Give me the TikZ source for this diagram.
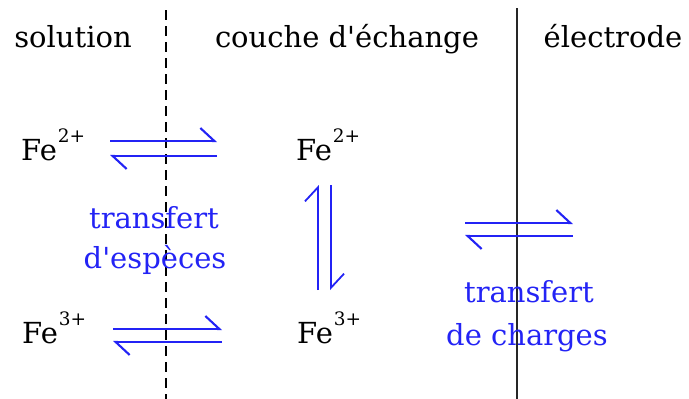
\documentclass[tikz,border=0pt]{standalone}
\usepackage{fontspec}
\setmainfont{DejaVu Serif}[Ligatures=TeXOff]
\usetikzlibrary{arrows.meta}
\definecolor{arrblue}{RGB}{35,35,245}
\newcommand\ionsup[1]{\kern1pt\raisebox{18pt}{\fontsize{18.5}{18}\selectfont #1}}
\tikzset{
  lbl/.style={anchor=base, inner sep=0pt, font=\fontsize{29}{34}\selectfont},
  bluelbl/.style={lbl, text=arrblue},
  harp/.style={draw=arrblue, line width=2.1pt, -{Straight Barb[left,length=14pt,width=26pt]}},
  sep/.style={line width=1.8pt}
}
\begin{document}
\begin{tikzpicture}[x=1pt,y=-1pt]
\useasboundingbox (0,0) rectangle (689,399);
% headings
\node[lbl] (sol) at (73,47) {solution};
\node[lbl] (cou) at (347,47) {couche d'échange};
\node[lbl] (ele) at (613,47) {électrode};
% separators
\coordinate (d1) at (166,10);
\coordinate (d2) at (166,399);
\coordinate (s1) at (517,8);
\coordinate (s2) at (517,399);
\draw[sep, dash pattern=on 10pt off 6pt] (d1) -- (d2);
\draw[sep, black!85] (s1) -- (s2);
% species
\node[lbl, anchor=base west] (fe2l) at (21,160) {Fe\ionsup{2+}};
\node[lbl, anchor=base west] (fe2m) at (296,160) {Fe\ionsup{2+}};
\node[lbl, anchor=base west] (fe3l) at (22,343) {Fe\ionsup{3+}};
\node[lbl, anchor=base west] (fe3m) at (297,343) {Fe\ionsup{3+}};
% blue labels
\node[bluelbl] (t1) at (154,228) {transfert};
\node[bluelbl] (t2) at (155,268) {d'espèces};
\node[bluelbl] (t3) at (529,302) {transfert};
\node[bluelbl] (t4) at (527,345) {de charges};
% harpoon end points
\coordinate (a1) at (110,141); \coordinate (a2) at (217,141);
\coordinate (a3) at (217,156); \coordinate (a4) at (110,156);
\coordinate (b1) at (113,329); \coordinate (b2) at (222,329);
\coordinate (b3) at (222,342); \coordinate (b4) at (113,342);
\coordinate (v1) at (318,290); \coordinate (v2) at (318,185);
\coordinate (v3) at (331,185); \coordinate (v4) at (331,290);
\coordinate (r1) at (465,223); \coordinate (r2) at (573,223);
\coordinate (r3) at (573,236); \coordinate (r4) at (465,236);
\draw[harp] (a1) -- (a2);
\draw[harp] (a3) -- (a4);
\draw[harp] (b1) -- (b2);
\draw[harp] (b3) -- (b4);
\draw[harp, line width=1.8pt] (v1) -- (v2);
\draw[harp, line width=1.8pt] (v3) -- (v4);
\draw[harp] (r1) -- (r2);
\draw[harp] (r3) -- (r4);
\end{tikzpicture}
\end{document}
